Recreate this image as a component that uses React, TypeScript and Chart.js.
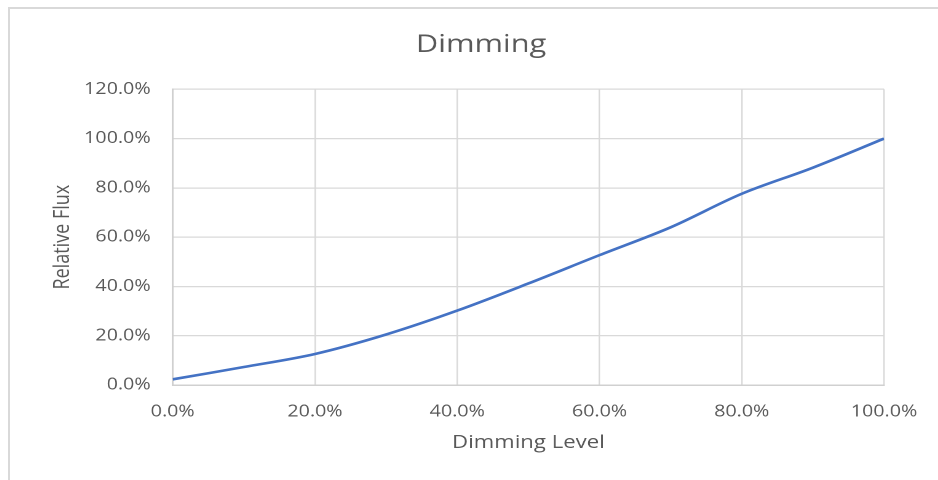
import { useEffect, useRef } from "react";
import { Chart, registerables } from "chart.js";

Chart.register(...registerables);

// ---- data ----
const dimmingLevels = [0, 10, 20, 30, 40, 50, 60, 70, 80, 90, 100];
const relativeFlux = [2.3, 7.3, 12.6, 20.5, 30.2, 41.2, 52.7, 64.0, 77.6, 88.2, 100.0];
const chartTitle = "Dimming";
const xAxisTitle = "Dimming Level";
const yAxisTitle = "Relative Flux";
const xTickStep = 20;
const yTickStep = 20;
const yMax = 120;

// ---- layout ----
const STRETCH = 1.23; // the reference is horizontally stretched
const W = 766;
const H = 471;
const FONT = "'Open Sans', 'Noto Sans', sans-serif";
const TEXT = "#595959";
const GRID = "#d9d9d9";

const pct = (v: number | string) => `${Number(v).toFixed(1)}%`;

export default function App() {
  const ref = useRef<HTMLCanvasElement>(null);

  useEffect(() => {
    if (!ref.current) return;
    const chart = new Chart(ref.current, {
      type: "line",
      data: {
        datasets: [
          {
            data: dimmingLevels.map((x, i) => ({ x, y: relativeFlux[i] })),
            borderColor: "#4472C4",
            backgroundColor: "#4472C4",
            borderWidth: 2.6,
            pointRadius: 0,
            tension: 0.33,
            fill: false,
          },
        ],
      },
      options: {
        animation: false,
        responsive: false,
        devicePixelRatio: 2,
        layout: { padding: 0 },
        plugins: {
          legend: { display: false },
          tooltip: { enabled: false },
          title: {
            display: true,
            text: chartTitle,
            color: TEXT,
            font: { family: FONT, size: 25, weight: "normal", lineHeight: 1.2 },
            padding: { top: 21, bottom: 29.3 },
          },
        },
        scales: {
          x: {
            type: "linear",
            min: 0,
            max: 100,
            ticks: {
              stepSize: xTickStep,
              callback: (v) => pct(v),
              color: TEXT,
              font: { family: FONT, size: 16, lineHeight: 1.2 },
              padding: 17.5,
              maxRotation: 0,
              autoSkip: false,
            },
            grid: { color: GRID, lineWidth: 1.2, drawTicks: false },
            border: { color: "#d0d0d0", width: 1.5 },
            title: {
              display: true,
              text: xAxisTitle,
              color: TEXT,
              font: { family: FONT, size: 18, lineHeight: 1.2 },
              padding: { top: 0, bottom: 26.2 },
            },
            afterFit: (s: any) => {
              s.height = 95;
            },
          },
          y: {
            type: "linear",
            min: 0,
            max: yMax,
            ticks: {
              stepSize: yTickStep,
              callback: (v) => pct(v),
              color: TEXT,
              font: { family: FONT, size: 16, lineHeight: 1.2 },
              padding: 18,
            },
            grid: { color: GRID, lineWidth: 1.2, drawTicks: false },
            border: { color: "#d0d0d0", width: 1.5 },
            title: {
              display: true,
              text: yAxisTitle,
              color: TEXT,
              font: { family: FONT, size: 18, lineHeight: 1.2 },
              padding: { top: 32, bottom: 0 },
            },
            afterFit: (s: any) => {
              s.width = 132.3;
            },
          },
          // empty right-hand spacer axis so the plot ends where the reference does
          yRight: {
            type: "linear",
            position: "right",
            display: true,
            ticks: { display: false },
            grid: { display: false, drawTicks: false },
            border: { display: false },
            title: { display: false },
            afterFit: (s: any) => {
              s.width = W - 710.6;
            },
          },
        },
      },
    });
    return () => chart.destroy();
  }, []);

  return (
    <div
      style={{
        position: "absolute",
        left: 8,
        top: 7,
        width: 930,
        height: 473,
        overflow: "hidden",
        borderLeft: `2px solid ${GRID}`,
        borderTop: `2px solid ${GRID}`,
        boxSizing: "border-box",
        background: "#fff",
      }}
    >
      <div
        style={{
          width: W,
          height: H,
          transform: `scaleX(${STRETCH})`,
          transformOrigin: "0 0",
        }}
      >
        <canvas
          ref={ref}
          width={W}
          height={H}
          style={{ width: W, height: H, display: "block" }}
        />
      </div>
    </div>
  );
}
